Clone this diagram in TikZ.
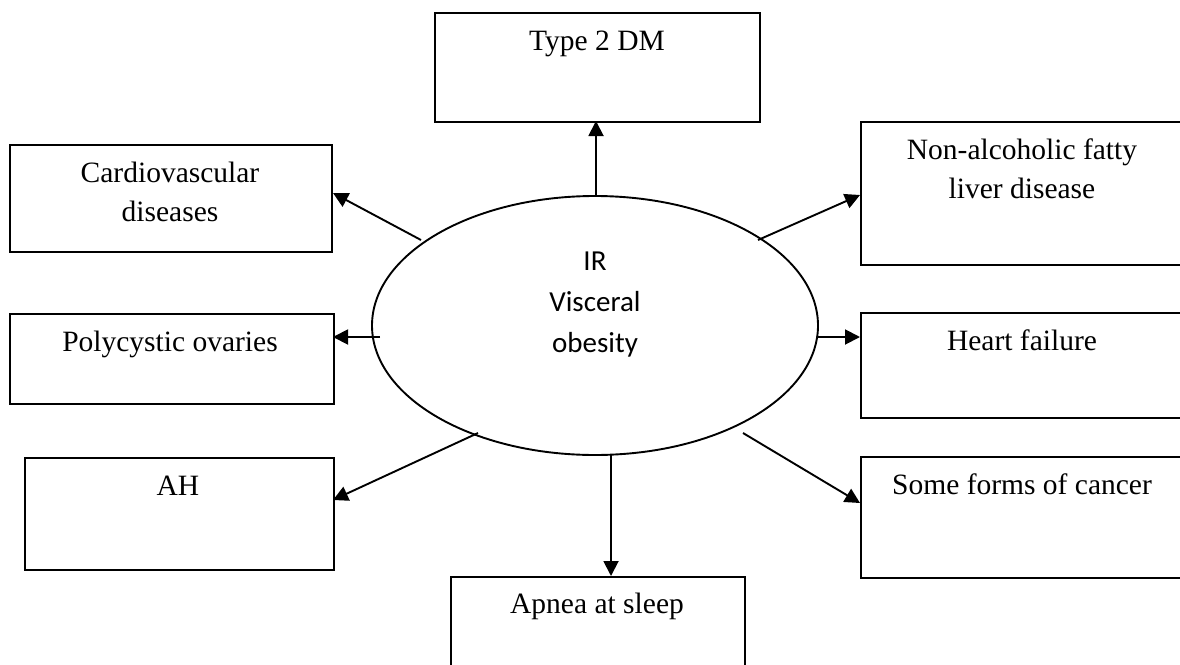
\documentclass[tikz,border=0pt]{standalone}
\usepackage{fontspec}
\setmainfont{Liberation Serif}
\newfontfamily\calib{Carlito}
\usetikzlibrary{arrows.meta,shapes.geometric}
\begin{document}
\begin{tikzpicture}[x=1pt,y=-1pt,
  box/.style={draw,line width=1.9pt,rectangle,inner sep=0pt,anchor=north west},
  lbl/.style={anchor=base,inner sep=0pt,font=\fontsize{29.5}{39}\selectfont,align=center},
  arr/.style={line width=1.9pt,-{Triangle[length=15pt,width=15pt]}}]
\useasboundingbox (0,0) rectangle (1180,664);
\fill[white] (0,0) rectangle (1180,664);
% central ellipse
\node[draw,ellipse,line width=1.9pt,minimum width=446pt,minimum height=259pt,inner sep=0pt] (c) at (595,325.5) {};
\node[anchor=base,inner sep=0pt,font=\calib\fontsize{29}{41}\selectfont,align=center] (ctxt) at (595,352) {IR\\Visceral\\obesity};
% boxes
\node[box,minimum width=325pt,minimum height=109pt] (t2) at (434,12) {};
\node[lbl] (t2t) at (597,50) {Type 2 DM};
\node[box,minimum width=322pt,minimum height=107pt] (cv) at (9,144) {};
\node[lbl] (cvt) at (170,221) {Cardiovascular\\diseases};
\node[box,minimum width=400pt,minimum height=143pt] (nf) at (860,121) {};
\node[lbl] (nft) at (1022,198) {Non-alcoholic fatty\\liver disease};
\node[box,minimum width=324pt,minimum height=90pt] (pc) at (9,313) {};
\node[lbl] (pct) at (170,351) {Polycystic ovaries};
\node[box,minimum width=400pt,minimum height=105pt] (hf) at (860,312) {};
\node[lbl] (hft) at (1022,350) {Heart failure};
\node[box,minimum width=309pt,minimum height=112pt] (ah) at (24,457) {};
\node[lbl] (aht) at (178,495) {AH};
\node[box,minimum width=400pt,minimum height=121pt] (sc) at (860,456) {};
\node[lbl] (sct) at (1022,494) {Some forms of cancer};
\node[box,minimum width=294pt,minimum height=120pt] (ap) at (450,576) {};
\node[lbl] (apt) at (597,613) {Apnea at sleep};
% connector end points
\coordinate (s1) at (596,196);
\coordinate (e1) at (596,121);
\coordinate (s2) at (421,240);
\coordinate (e2) at (333,193);
\coordinate (s3) at (758,240);
\coordinate (e3) at (860,195);
\coordinate (s4) at (380,337);
\coordinate (e4) at (333,337);
\coordinate (s5) at (818,337);
\coordinate (e5) at (860,337);
\coordinate (s6) at (478,433);
\coordinate (e6) at (333,500);
\coordinate (s7) at (743,433);
\coordinate (e7) at (860,503);
\coordinate (s8) at (611,455);
\coordinate (e8) at (611,576);
\draw[arr] (s1) -- (e1);
\draw[arr] (s2) -- (e2);
\draw[arr] (s3) -- (e3);
\draw[arr] (s4) -- (e4);
\draw[arr] (s5) -- (e5);
\draw[arr] (s6) -- (e6);
\draw[arr] (s7) -- (e7);
\draw[arr] (s8) -- (e8);
\end{tikzpicture}
\end{document}
